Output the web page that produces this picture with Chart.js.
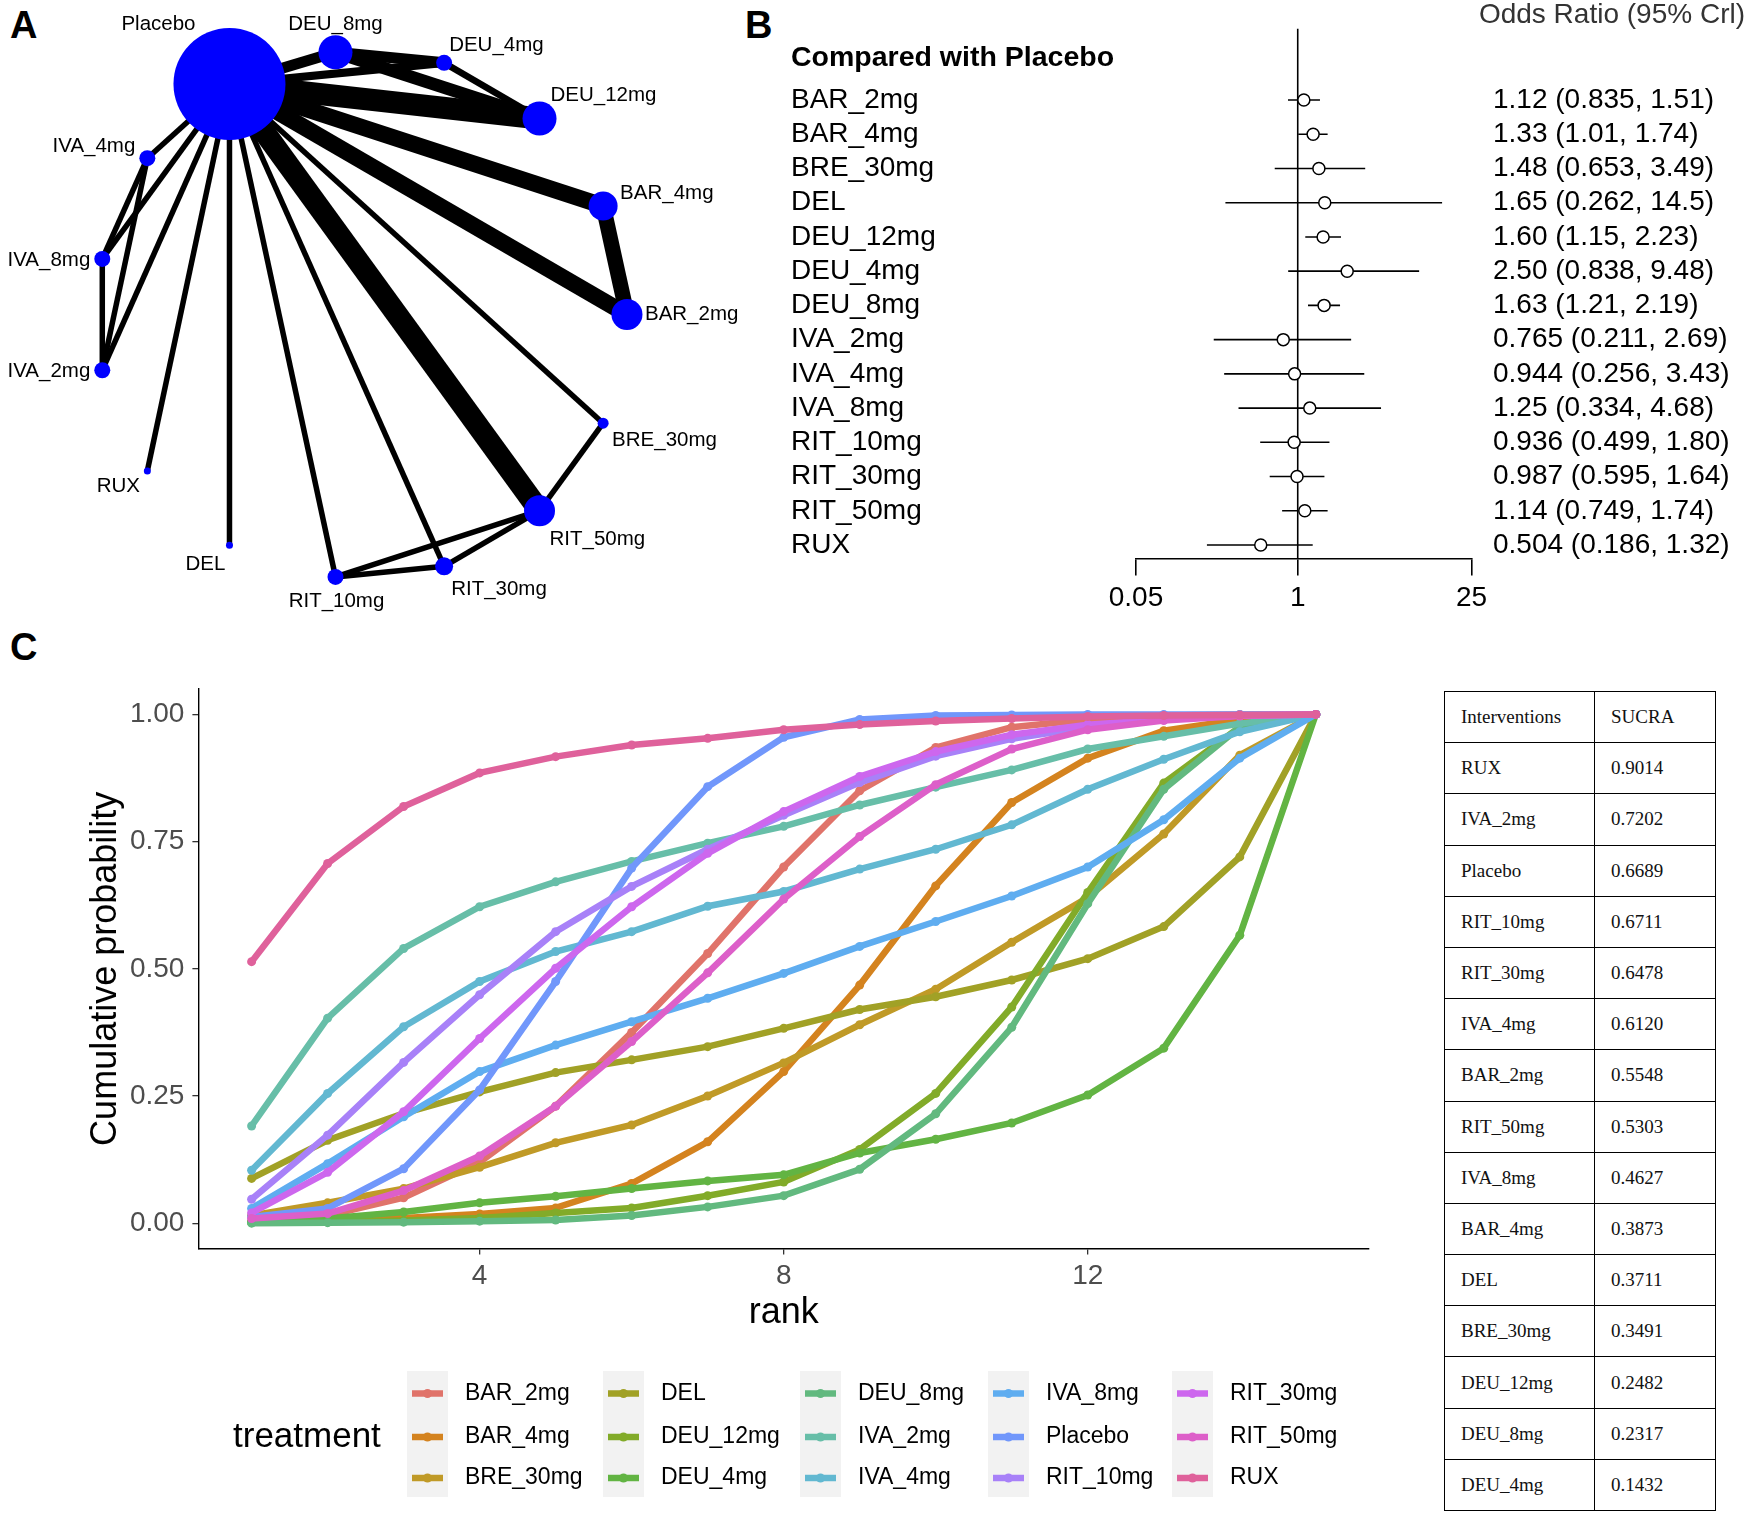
<!DOCTYPE html>
<html>
<head>
<meta charset="utf-8">
<title>Network meta-analysis</title>
<script src="https://cdn.jsdelivr.net/npm/chart.js@4.4.1/dist/chart.umd.min.js"></script>
<style>
  html, body { margin: 0; padding: 0; background: #fff; }
  body { position: relative; width: 1748px; height: 1514px; overflow: hidden; font-family: "Liberation Sans", Arial, sans-serif; }
  canvas { position: absolute; }
  .tag { position: absolute; font-weight: bold; font-size: 38px; line-height: 38px; color: #000; }
  #sucra { position: absolute; left: 1444px; top: 691px; width: 271px; border-collapse: collapse; table-layout: fixed;
           font-family: "Liberation Serif", "Times New Roman", serif; font-size: 19px; color: #111; }
  #sucra tr { height: 51.2px; }
  #sucra td { border: 1.5px solid #000; padding: 0 0 0 16px; }
</style>
</head>
<body>
<div class="tag" style="left:10px;top:6px">A</div>
<div class="tag" style="left:745px;top:6px">B</div>
<div class="tag" style="left:10px;top:628px">C</div>
<canvas id="netChart" width="760" height="640" style="left:0;top:0"></canvas>
<canvas id="forestChart" width="988" height="640" style="left:760px;top:0"></canvas>
<canvas id="rankChart" width="1430" height="874" style="left:0;top:640px"></canvas>
<table id="sucra"><colgroup><col style="width:150px"><col style="width:121px"></colgroup><tbody></tbody></table>

<script>
// ---------- data: panel A (evidence network) ----------
const netNodes = ['Placebo', 'DEU_8mg', 'DEU_4mg', 'DEU_12mg', 'BAR_4mg', 'BAR_2mg', 'BRE_30mg', 'RIT_50mg',
  'RIT_30mg', 'RIT_10mg', 'DEL', 'RUX', 'IVA_2mg', 'IVA_8mg', 'IVA_4mg'];
const nodeX = [-0.50, -0.10, 0.31, 0.67, 0.91, 1.00, 0.91, 0.67, 0.31, -0.10, -0.50, -0.81, -0.98, -0.98, -0.81];
const nodeY = [0.87, 0.99, 0.95, 0.74, 0.41, 0.00, -0.41, -0.74, -0.95, -0.99, -0.87, -0.59, -0.21, 0.21, 0.59];
const nodeSize = [56, 17, 8, 17, 14.5, 15.5, 5.5, 15.5, 9, 8, 3.5, 3.5, 8, 8, 8];
const netEdges = [
  ['Placebo', 'DEU_12mg', 4], ['Placebo', 'RIT_50mg', 4], ['Placebo', 'BAR_4mg', 3], ['Placebo', 'BAR_2mg', 3],
  ['BAR_4mg', 'BAR_2mg', 2.8], ['Placebo', 'DEU_8mg', 2], ['DEU_8mg', 'DEU_4mg', 2], ['DEU_8mg', 'DEU_12mg', 2.3],
  ['Placebo', 'DEU_4mg', 1.5], ['DEU_4mg', 'DEU_12mg', 1.2], ['Placebo', 'BRE_30mg', 1], ['BRE_30mg', 'RIT_50mg', 1],
  ['Placebo', 'RIT_30mg', 1], ['Placebo', 'RIT_10mg', 1], ['RIT_10mg', 'RIT_30mg', 1], ['RIT_10mg', 'RIT_50mg', 1],
  ['RIT_30mg', 'RIT_50mg', 1], ['Placebo', 'DEL', 1], ['Placebo', 'RUX', 1], ['Placebo', 'IVA_2mg', 1],
  ['Placebo', 'IVA_8mg', 1], ['Placebo', 'IVA_4mg', 1], ['IVA_4mg', 'IVA_8mg', 1], ['IVA_4mg', 'IVA_2mg', 1],
  ['IVA_8mg', 'IVA_2mg', 1]
];

// ---------- data: panel B (odds ratios vs placebo) ----------
const forestLabels = ['BAR_2mg', 'BAR_4mg', 'BRE_30mg', 'DEL', 'DEU_12mg', 'DEU_4mg', 'DEU_8mg', 'IVA_2mg',
  'IVA_4mg', 'IVA_8mg', 'RIT_10mg', 'RIT_30mg', 'RIT_50mg', 'RUX'];
const orEst = [1.12, 1.33, 1.48, 1.65, 1.60, 2.50, 1.63, 0.765, 0.944, 1.25, 0.936, 0.987, 1.14, 0.504];
const orLow = [0.835, 1.01, 0.653, 0.262, 1.15, 0.838, 1.21, 0.211, 0.256, 0.334, 0.499, 0.595, 0.749, 0.186];
const orHigh = [1.51, 1.74, 3.49, 14.5, 2.23, 9.48, 2.19, 2.69, 3.43, 4.68, 1.80, 1.64, 1.74, 1.32];
const orText = ['1.12 (0.835, 1.51)', '1.33 (1.01, 1.74)', '1.48 (0.653, 3.49)', '1.65 (0.262, 14.5)',
  '1.60 (1.15, 2.23)', '2.50 (0.838, 9.48)', '1.63 (1.21, 2.19)', '0.765 (0.211, 2.69)', '0.944 (0.256, 3.43)',
  '1.25 (0.334, 4.68)', '0.936 (0.499, 1.80)', '0.987 (0.595, 1.64)', '1.14 (0.749, 1.74)', '0.504 (0.186, 1.32)'];
const forestTicks = [0.05, 1, 25];

// ---------- data: panel C (cumulative rank probabilities) ----------
const ranks = [1, 2, 3, 4, 5, 6, 7, 8, 9, 10, 11, 12, 13, 14, 15];
const treatments = ['BAR_2mg', 'BAR_4mg', 'BRE_30mg', 'DEL', 'DEU_12mg', 'DEU_4mg', 'DEU_8mg', 'IVA_2mg',
  'IVA_4mg', 'IVA_8mg', 'Placebo', 'RIT_10mg', 'RIT_30mg', 'RIT_50mg', 'RUX'];
const cumBAR_2mg  = [0.003, 0.015, 0.05, 0.12, 0.23, 0.375, 0.53, 0.70, 0.85, 0.935, 0.975, 0.99, 0.998, 1, 1];
const cumBAR_4mg  = [0.002, 0.005, 0.01, 0.018, 0.03, 0.078, 0.16, 0.298, 0.468, 0.663, 0.827, 0.914, 0.968, 0.99, 1];
const cumBRE_30mg = [0.015, 0.04, 0.068, 0.11, 0.158, 0.193, 0.25, 0.315, 0.39, 0.46, 0.552, 0.64, 0.765, 0.92, 1];
const cumDEL      = [0.088, 0.163, 0.216, 0.258, 0.296, 0.321, 0.347, 0.383, 0.42, 0.445, 0.478, 0.52, 0.583, 0.72, 1];
const cumDEU_12mg = [0.001, 0.002, 0.005, 0.01, 0.02, 0.03, 0.054, 0.081, 0.145, 0.255, 0.425, 0.65, 0.865, 0.975, 1];
const cumDEU_4mg  = [0.003, 0.009, 0.022, 0.04, 0.053, 0.068, 0.083, 0.095, 0.138, 0.165, 0.197, 0.252, 0.344, 0.566, 1];
const cumDEU_8mg  = [0, 0.001, 0.002, 0.004, 0.006, 0.015, 0.032, 0.054, 0.106, 0.215, 0.385, 0.628, 0.853, 0.975, 1];
const cumIVA_2mg  = [0.191, 0.403, 0.54, 0.622, 0.671, 0.711, 0.747, 0.78, 0.822, 0.857, 0.891, 0.932, 0.957, 0.982, 1];
const cumIVA_4mg  = [0.104, 0.255, 0.386, 0.475, 0.534, 0.573, 0.623, 0.652, 0.696, 0.735, 0.783, 0.853, 0.912, 0.966, 1];
const cumIVA_8mg  = [0.029, 0.117, 0.209, 0.298, 0.35, 0.396, 0.442, 0.491, 0.544, 0.593, 0.643, 0.70, 0.793, 0.914, 1];
const cumPlacebo  = [0.012, 0.029, 0.107, 0.262, 0.475, 0.698, 0.858, 0.955, 0.99, 0.998, 0.999, 1, 1, 1, 1];
const cumRIT_10mg = [0.047, 0.173, 0.316, 0.449, 0.573, 0.662, 0.735, 0.802, 0.866, 0.918, 0.952, 0.975, 0.99, 0.998, 1];
const cumRIT_30mg = [0.02, 0.10, 0.219, 0.363, 0.501, 0.622, 0.727, 0.809, 0.878, 0.927, 0.96, 0.98, 0.99, 0.998, 1];
const cumRIT_50mg = [0.009, 0.019, 0.064, 0.132, 0.23, 0.357, 0.492, 0.637, 0.76, 0.862, 0.932, 0.97, 0.988, 0.997, 1];
const cumRUX      = [0.514, 0.707, 0.819, 0.885, 0.917, 0.94, 0.953, 0.97, 0.98, 0.987, 0.992, 0.996, 0.998, 0.999, 1];
const yTicks = [0, 0.25, 0.5, 0.75, 1];
const xTicks = [4, 8, 12];

// ---------- data: SUCRA table ----------
const sucraNames = ['RUX', 'IVA_2mg', 'Placebo', 'RIT_10mg', 'RIT_30mg', 'IVA_4mg', 'BAR_2mg', 'RIT_50mg',
  'IVA_8mg', 'BAR_4mg', 'DEL', 'BRE_30mg', 'DEU_12mg', 'DEU_8mg', 'DEU_4mg'];
const sucraValues = ['0.9014', '0.7202', '0.6689', '0.6711', '0.6478', '0.6120', '0.5548', '0.5303',
  '0.4627', '0.3873', '0.3711', '0.3491', '0.2482', '0.2317', '0.1432'];

// ---------- styles ----------
const FONT = '"Liberation Sans", Arial, sans-serif';
Chart.defaults.font.family = FONT;
Chart.defaults.color = '#000';
const lineColors = ['#E0736A', '#D4831F', '#C09A27', '#A1A126', '#82AB29', '#62B443', '#62B97F', '#67BEA8',
  '#62B8D1', '#5FADF0', '#7197FB', '#A881F8', '#CD67EE', '#DD5FC9', '#DF619B'];
const netLabelPos = {
  Placebo: [-71, -60, 'center'], DEU_8mg: [0, -28, 'center'], DEU_4mg: [5, -17, 'left'], DEU_12mg: [11, -23, 'left'],
  BAR_4mg: [17, -13, 'left'], BAR_2mg: [18, 0, 'left'], BRE_30mg: [9, 17, 'left'], RIT_50mg: [10, 29, 'left'],
  RIT_30mg: [7, 23, 'left'], RIT_10mg: [1, 24, 'center'], DEL: [-24, 19, 'center'], RUX: [-29, 15, 'center'],
  IVA_2mg: [-12, 1, 'right'], IVA_8mg: [-12, 1, 'right'], IVA_4mg: [-12, -12, 'right']
};
const noHover = { legend: { display: false }, tooltip: { enabled: false } };

// ---------- panel A ----------
const nodePoint = (name) => {
  const i = netNodes.indexOf(name);
  return { x: nodeX[i], y: nodeY[i] };
};

const netLabels = {
  id: 'netLabels',
  afterDatasetsDraw(chart) {
    const { ctx, scales: { x, y } } = chart;
    ctx.save();
    ctx.font = '20.5px ' + FONT;
    ctx.fillStyle = '#000';
    ctx.textBaseline = 'middle';
    netNodes.forEach((name, i) => {
      const [dx, dy, align] = netLabelPos[name];
      ctx.textAlign = align;
      ctx.fillText(name, x.getPixelForValue(nodeX[i]) + dx, y.getPixelForValue(nodeY[i]) + dy);
    });
    ctx.restore();
  }
};

new Chart(document.getElementById('netChart'), {
  type: 'scatter',
  data: {
    datasets: [
      {
        label: 'nodes',
        data: netNodes.map(nodePoint),
        pointRadius: nodeSize,
        pointBackgroundColor: '#0000FF',
        pointBorderWidth: 0,
        order: 0,
        clip: false
      },
      ...netEdges.map(([a, b, studies]) => ({
        type: 'line',
        label: a + '-' + b,
        data: [nodePoint(a), nodePoint(b)],
        borderColor: '#000',
        borderWidth: studies * 5.5,
        pointRadius: 0,
        order: 1,
        clip: false
      }))
    ]
  },
  options: {
    responsive: false,
    animation: false,
    events: [],
    layout: { padding: 0, autoPadding: false },
    plugins: noHover,
    scales: {
      x: { type: 'linear', display: false, min: -1.366, max: 1.502 },
      y: { type: 'linear', display: false, min: -1.228, max: 1.187 }
    }
  },
  plugins: [netLabels]
});

// ---------- panel B ----------
const rowIdx = forestLabels.map((_, i) => i + 1);
const Y_TOP = -1.086, Y_BOTTOM = 14.394;

const forestText = {
  id: 'forestText',
  afterDraw(chart) {
    const { ctx, scales: { y } } = chart;
    ctx.save();
    ctx.fillStyle = '#000';
    ctx.textBaseline = 'middle';
    ctx.textAlign = 'left';
    ctx.font = 'bold 28.5px ' + FONT;
    ctx.fillText('Compared with Placebo', 31, 58);
    ctx.font = '28px ' + FONT;
    rowIdx.forEach((r, i) => {
      const py = y.getPixelForValue(r);
      ctx.fillText(forestLabels[i], 31, py);
      ctx.fillText(orText[i], 733, py);
    });
    ctx.fillStyle = '#333';
    ctx.textAlign = 'right';
    ctx.fillText('Odds Ratio (95% Crl)', 985, 15);
    ctx.restore();
  }
};

new Chart(document.getElementById('forestChart'), {
  type: 'scatter',
  data: {
    datasets: [
      {
        label: 'OR',
        data: orEst.map((v, i) => ({ x: v, y: rowIdx[i] })),
        pointStyle: 'circle',
        pointRadius: 6,
        pointBackgroundColor: '#fff',
        pointBorderColor: '#000',
        pointBorderWidth: 1.5,
        order: 0
      },
      {
        type: 'line',
        label: '95% CrI',
        data: orLow.flatMap((lo, i) => [{ x: lo, y: rowIdx[i] }, { x: orHigh[i], y: rowIdx[i] }, { x: null, y: null }]),
        borderColor: '#000',
        borderWidth: 1.6,
        pointRadius: 0,
        spanGaps: false,
        order: 1
      },
      {
        type: 'line',
        label: 'no effect',
        data: [{ x: 1, y: Y_TOP }, { x: 1, y: Y_BOTTOM }],
        borderColor: '#000',
        borderWidth: 1.6,
        pointRadius: 0,
        order: 2
      }
    ]
  },
  options: {
    responsive: false,
    animation: false,
    events: [],
    layout: { padding: { left: 376, right: 276.5, top: 28.6, bottom: 21.5 } },
    plugins: noHover,
    scales: {
      x: {
        type: 'logarithmic',
        min: 0.05,
        max: 25,
        afterBuildTicks: (s) => { s.ticks = forestTicks.map((v) => ({ value: v })); },
        afterFit: (s) => { s.height = 60; },
        ticks: { callback: (v) => String(v), font: { size: 28 }, color: '#000', padding: 6, maxRotation: 0, autoSkip: false },
        grid: { drawOnChartArea: false, drawTicks: true, tickLength: 17, color: '#000', lineWidth: 1.6 },
        border: { display: true, color: '#000', width: 1.6 }
      },
      y: { type: 'linear', display: false, reverse: true, min: Y_TOP, max: Y_BOTTOM }
    }
  },
  plugins: [forestText]
});

// ---------- panel C ----------
const cumSeries = [cumBAR_2mg, cumBAR_4mg, cumBRE_30mg, cumDEL, cumDEU_12mg, cumDEU_4mg, cumDEU_8mg, cumIVA_2mg,
  cumIVA_4mg, cumIVA_8mg, cumPlacebo, cumRIT_10mg, cumRIT_30mg, cumRIT_50mg, cumRUX];

const legendCols = [407, 603, 800, 988, 1172];
const legendRows = [753.5, 797, 838];

const rankLegend = {
  id: 'rankLegend',
  afterDraw(chart) {
    const { ctx } = chart;
    ctx.save();
    ctx.fillStyle = '#000';
    ctx.textBaseline = 'middle';
    ctx.textAlign = 'left';
    ctx.font = '35px ' + FONT;
    ctx.fillText('treatment', 233, 797);
    legendCols.forEach((cx) => {
      ctx.fillStyle = '#F2F2F2';
      ctx.fillRect(cx, 731, 41, 126);
    });
    ctx.font = '23px ' + FONT;
    treatments.forEach((name, i) => {
      const cx = legendCols[Math.floor(i / 3)];
      const cy = legendRows[i % 3];
      ctx.strokeStyle = lineColors[i];
      ctx.lineWidth = 6.5;
      ctx.beginPath();
      ctx.moveTo(cx + 5, cy);
      ctx.lineTo(cx + 36, cy);
      ctx.stroke();
      ctx.fillStyle = lineColors[i];
      ctx.beginPath();
      ctx.arc(cx + 20.5, cy, 4.5, 0, Math.PI * 2);
      ctx.fill();
      ctx.fillStyle = '#000';
      ctx.fillText(name, cx + 58, cy);
    });
    ctx.restore();
  }
};

new Chart(document.getElementById('rankChart'), {
  type: 'line',
  data: {
    datasets: treatments.map((name, i) => ({
      label: name,
      data: ranks.map((r, k) => ({ x: r, y: cumSeries[i][k] })),
      borderColor: lineColors[i],
      backgroundColor: lineColors[i],
      borderWidth: 6.5,
      pointRadius: 4.5,
      pointBorderWidth: 0,
      pointBackgroundColor: lineColors[i],
      tension: 0,
      fill: false,
      order: treatments.length - i
    }))
  },
  options: {
    responsive: false,
    animation: false,
    events: [],
    layout: { padding: { left: 0, right: 61, top: 49, bottom: 165.4 } },
    plugins: noHover,
    scales: {
      x: {
        type: 'linear',
        min: 0.3,
        max: 15.7,
        afterBuildTicks: (s) => { s.ticks = xTicks.map((v) => ({ value: v })); },
        afterFit: (s) => { s.height = 100; },
        ticks: { font: { size: 28 }, color: '#4D4D4D', padding: 5 },
        grid: { drawOnChartArea: false, drawTicks: true, tickLength: 6, color: '#333', lineWidth: 1.3 },
        border: { display: true, color: '#000', width: 1.4 },
        title: { display: true, text: 'rank', font: { size: 36 }, color: '#000', padding: { top: 0, bottom: 14 } }
      },
      y: {
        type: 'linear',
        min: -0.05,
        max: 1.05,
        afterBuildTicks: (s) => { s.ticks = yTicks.map((v) => ({ value: v })); },
        afterFit: (s) => { s.width = 198.4; },
        ticks: { font: { size: 28 }, color: '#4D4D4D', padding: 8, callback: (v) => v.toFixed(2) },
        grid: { drawOnChartArea: false, drawTicks: true, tickLength: 6, color: '#333', lineWidth: 1.3 },
        border: { display: true, color: '#000', width: 1.4 },
        title: { display: true, text: 'Cumulative probability', font: { size: 36 }, color: '#000', padding: { top: 84, bottom: 0 } }
      }
    }
  },
  plugins: [rankLegend]
});

// ---------- SUCRA table ----------
const tbody = document.querySelector('#sucra tbody');
[['Interventions', 'SUCRA']].concat(sucraNames.map((n, i) => [n, sucraValues[i]])).forEach(([a, b]) => {
  const tr = document.createElement('tr');
  tr.innerHTML = '<td>' + a + '</td><td>' + b + '</td>';
  tbody.appendChild(tr);
});
</script>
</body>
</html>
